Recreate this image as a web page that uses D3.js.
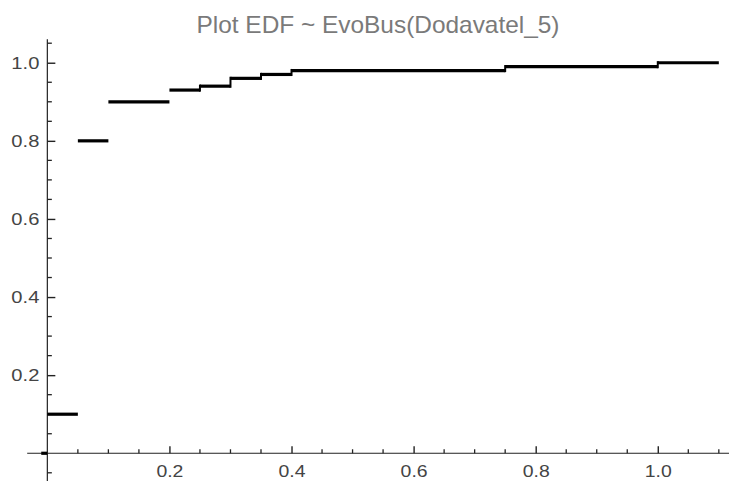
<!DOCTYPE html>
<html>
<head>
<meta charset="utf-8">
<script src="https://cdn.jsdelivr.net/npm/d3@7"></script>
<style>
  body { margin: 0; background: #fff; }
</style>
</head>
<body>
<div id="chart"></div>
<script>
// EDF steps: each level holds from stepStarts[i] to stepEnds[i]
var stepStarts = [-0.01, 0, 0.05, 0.1, 0.2, 0.25, 0.3, 0.35, 0.4, 0.75, 1.0];
var stepEnds   = [0, 0.05, 0.1, 0.2, 0.25, 0.3, 0.35, 0.4, 0.75, 1.0, 1.1];
var edfValues  = [0, 0.1, 0.8, 0.9, 0.93, 0.94, 0.96, 0.97, 0.98, 0.99, 1.0];

var xMajor = [0.2, 0.4, 0.6, 0.8, 1.0];
var yMajor = [0.2, 0.4, 0.6, 0.8, 1.0];
var xMinor = [0.05, 0.1, 0.15, 0.25, 0.3, 0.35, 0.45, 0.5, 0.55, 0.65, 0.7, 0.75, 0.85, 0.9, 0.95, 1.05, 1.1];
var yMinor = [-0.05, 0.05, 0.1, 0.15, 0.25, 0.3, 0.35, 0.45, 0.5, 0.55, 0.65, 0.7, 0.75, 0.85, 0.9, 0.95, 1.05];

var titleText = "Plot EDF ~ EvoBus(Dodavatel_5)";

function main() {
    var canvasWidth = 729;
    var canvasHeight = 481;

    var svg = d3.select("#chart").append("svg")
        .attr("width", canvasWidth)
        .attr("height", canvasHeight)
        .style("font-family", "'Liberation Sans', Arial, sans-serif");

    var xScale = d3.scaleLinear().domain([-0.033, 1.117]).range([27.2, 729.2]);
    var yScale = d3.scaleLinear().domain([-0.07, 1.06]).range([480.6, 39.3]);

    // title
    svg.append("text")
        .attr("x", 378)
        .attr("y", 33)
        .attr("text-anchor", "middle")
        .attr("font-size", "24px")
        .attr("fill", "#7a7a7a")
        .attr("textLength", 363)
        .attr("lengthAdjust", "spacingAndGlyphs")
        .text(titleText);

    var x0 = xScale(0), y0 = yScale(0);

    // X axis: line at y=0, ticks pointing up, labels below
    var xAxis = svg.append("g")
        .attr("transform", "translate(0," + y0 + ")")
        .call(d3.axisBottom(xScale).tickValues(xMajor).tickSize(-7).tickPadding(12)
            .tickFormat(d3.format(".1f")));
    xAxis.select(".domain").remove();
    xAxis.append("line")
        .attr("x1", xScale.range()[0]).attr("x2", canvasWidth)
        .attr("stroke", "#222").attr("stroke-width", 1);
    xAxis.selectAll(".tick line").attr("stroke", "#222").attr("stroke-width", 1.4);
    xAxis.selectAll(".tick text")
        .attr("font-size", "17px")
        .attr("fill", "#444")
        .attr("textLength", 27)
        .attr("lengthAdjust", "spacingAndGlyphs");
    xAxis.selectAll(".minor")
        .data(xMinor)
        .enter().append("line")
        .attr("class", "minor")
        .attr("x1", function(d) { return xScale(d); })
        .attr("x2", function(d) { return xScale(d); })
        .attr("y1", 0).attr("y2", -4)
        .attr("stroke", "#222").attr("stroke-width", 1.3);

    // Y axis: line at x=0, ticks pointing right, labels left
    var yAxis = svg.append("g")
        .attr("transform", "translate(" + x0 + ",0)")
        .call(d3.axisLeft(yScale).tickValues(yMajor).tickSize(-8).tickPadding(8)
            .tickFormat(d3.format(".1f")));
    yAxis.select(".domain").remove();
    yAxis.append("line")
        .attr("y1", yScale.range()[1]).attr("y2", canvasHeight)
        .attr("stroke", "#222").attr("stroke-width", 1.2);
    yAxis.selectAll(".tick line").attr("stroke", "#222").attr("stroke-width", 1.4);
    yAxis.selectAll(".tick text")
        .attr("font-size", "17px")
        .attr("fill", "#444")
        .attr("textLength", 28)
        .attr("lengthAdjust", "spacingAndGlyphs");
    yAxis.selectAll(".minor")
        .data(yMinor)
        .enter().append("line")
        .attr("class", "minor")
        .attr("y1", function(d) { return yScale(d); })
        .attr("y2", function(d) { return yScale(d); })
        .attr("x1", 0).attr("x2", 4.5)
        .attr("stroke", "#222").attr("stroke-width", 1.3);

    // EDF steps
    var steps = stepStarts.map(function(s, i) {
        return { start: s, end: stepEnds[i], value: edfValues[i] };
    });

    svg.append("g").selectAll(".step")
        .data(steps)
        .enter().append("line")
        .attr("class", "step")
        .attr("x1", function(d) { return xScale(d.start); })
        .attr("x2", function(d) { return xScale(d.end); })
        .attr("y1", function(d) { return yScale(d.value); })
        .attr("y2", function(d) { return yScale(d.value); })
        .attr("stroke", "#000")
        .attr("stroke-width", 3.2);

    // small jumps look joined in the original
    var joins = steps.filter(function(d, i) {
        return i > 0 && (d.value - steps[i - 1].value) <= 0.021;
    }).map(function(d) {
        var i = steps.indexOf(d);
        return { x: d.start, from: steps[i - 1].value, to: d.value };
    });

    svg.append("g").selectAll(".join")
        .data(joins)
        .enter().append("line")
        .attr("class", "join")
        .attr("x1", function(d) { return xScale(d.x); })
        .attr("x2", function(d) { return xScale(d.x); })
        .attr("y1", function(d) { return yScale(d.from) + 1.6; })
        .attr("y2", function(d) { return yScale(d.to) - 1.6; })
        .attr("stroke", "#000")
        .attr("stroke-width", 2);
}

main()
</script>
</body>
</html>
